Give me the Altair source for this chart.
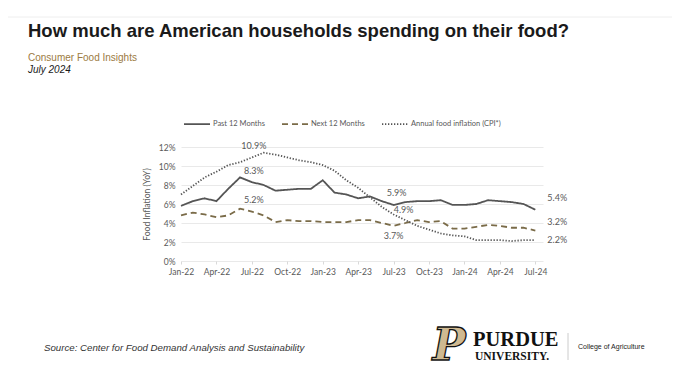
import json
import altair as alt
import pandas as pd

# ---------------- data ----------------
months = ["Jan-22", "Feb-22", "Mar-22", "Apr-22", "May-22", "Jun-22", "Jul-22", "Aug-22",
          "Sep-22", "Oct-22", "Nov-22", "Dec-22", "Jan-23", "Feb-23", "Mar-23", "Apr-23",
          "May-23", "Jun-23", "Jul-23", "Aug-23", "Sep-23", "Oct-23", "Nov-23", "Dec-23",
          "Jan-24", "Feb-24", "Mar-24", "Apr-24", "May-24", "Jun-24", "Jul-24"]
past_12 = [5.8, 6.3, 6.6, 6.3, 7.6, 8.8, 8.3, 8.0, 7.4, 7.5, 7.6, 7.6, 8.5, 7.2, 7.0, 6.6,
           6.8, 6.3, 5.9, 6.2, 6.3, 6.3, 6.4, 5.9, 5.9, 6.0, 6.4, 6.3, 6.2, 6.0, 5.4]
next_12 = [4.8, 5.1, 4.9, 4.6, 4.8, 5.5, 5.2, 4.8, 4.1, 4.3, 4.2, 4.2, 4.1, 4.1, 4.1, 4.3,
           4.3, 4.0, 3.7, 4.0, 4.3, 4.1, 4.2, 3.4, 3.4, 3.6, 3.8, 3.7, 3.5, 3.5, 3.2]
cpi = [7.0, 7.9, 8.8, 9.4, 10.1, 10.4, 10.9, 11.4, 11.2, 10.9, 10.6, 10.4, 10.1, 9.5, 8.5, 7.7,
       6.7, 5.7, 4.9, 4.3, 3.7, 3.3, 2.9, 2.7, 2.6, 2.2, 2.2, 2.2, 2.1, 2.2, 2.2]
series_names = ["Past 12 Months", "Next 12 Months", "Annual food inflation (CPI*)"]
label_months = ["Jul-22", "Jul-23", "Jul-24"]
y_ticks = [0, 2, 4, 6, 8, 10, 12]
x_tick_index = list(range(0, 31, 3))

title_text = "How much are American households spending on their food?"
subtitle_text = "Consumer Food Insights"
date_text = "July 2024"
source_text = "Source:  Center for Food Demand Analysis and Sustainability"
y_title = "Food Inflation (YoY)"

rows = []
for name, vals in zip(series_names, [past_12, next_12, cpi]):
    for i, (m, v) in enumerate(zip(months, vals)):
        rows.append({"series": name, "idx": i, "month": m, "value": v})
df = pd.DataFrame(rows)
df_labels = df[df["month"].isin(label_months)].reset_index(drop=True)

# ---------------- style ----------------
FONT = "Lato"
GRAY = "#595959"
W, H = 362, 114
PAD = {"left": 173, "top": 139, "right": 664 - 173 - W, "bottom": 354 - 139 - H}

x_axis = alt.Axis(values=x_tick_index, labelExpr=json.dumps(months) + "[datum.value]",
                  title=None, grid=False, domain=False, ticks=True, tickSize=3,
                  tickColor="#d9d9d9", labelColor=GRAY, labelFont=FONT,
                  labelFontSize=8.5, labelPadding=3, labelOverlap=False,
                  labelFlush=False)
y_axis = alt.Axis(values=y_ticks, labelExpr="datum.value + '%'", title=y_title,
                  titleFont=FONT, titleFontSize=8.5, titleFontWeight="normal",
                  titleColor=GRAY, titlePadding=7, grid=True, gridColor="#e3e3e3",
                  gridWidth=0.8, domain=False, ticks=False, labelColor=GRAY,
                  labelFont=FONT, labelFontSize=8.5, labelPadding=6,
                  labelOverlap=False, labelFlush=False)
x_enc = alt.X("idx:Q", scale=alt.Scale(domain=[0, 30.65], nice=False, zero=False), axis=x_axis)
y_enc = alt.Y("value:Q", scale=alt.Scale(domain=[0, 12], nice=False), axis=y_axis)

lines = alt.Chart(df).mark_line().encode(
    x=x_enc,
    y=y_enc,
    color=alt.Color("series:N", sort=series_names,
                    scale=alt.Scale(domain=series_names, range=["#555555", "#7a6b48", "#555555"]),
                    legend=alt.Legend(title=None)),
    strokeDash=alt.StrokeDash("series:N", sort=series_names,
                              scale=alt.Scale(domain=series_names, range=[[1, 0], [6, 4], [1.3, 1.7]]),
                              legend=alt.Legend(title=None)),
    strokeWidth=alt.StrokeWidth("series:N",
                                scale=alt.Scale(domain=series_names, range=[1.8, 1.8, 1.1]),
                                legend=None),
)

# value labels: (dx, dy, align)
offsets = {
    ("Past 12 Months", "Jul-22"): (2, -11, "center"),
    ("Next 12 Months", "Jul-22"): (2, -12, "center"),
    ("Annual food inflation (CPI*)", "Jul-22"): (2, -11, "center"),
    ("Past 12 Months", "Jul-23"): (3, -12, "center"),
    ("Next 12 Months", "Jul-23"): (0, 10, "center"),
    ("Annual food inflation (CPI*)", "Jul-23"): (10, -4, "center"),
    ("Past 12 Months", "Jul-24"): (12, -12, "left"),
    ("Next 12 Months", "Jul-24"): (12, -9, "left"),
    ("Annual food inflation (CPI*)", "Jul-24"): (12, 0, "left"),
}
label_layers = []
for (s, m), (dx, dy, al) in offsets.items():
    label_layers.append(
        alt.Chart(df_labels)
        .transform_filter(f"datum.series == '{s}' && datum.month == '{m}'")
        .transform_calculate(lbl="format(datum.value, '.1f') + '%'")
        .mark_text(dx=dx, dy=dy, align=al, baseline="middle", font=FONT, fontSize=9, color=GRAY)
        .encode(x=x_enc, y=y_enc, text="lbl:N")
    )


def text_layer(txt, x, y, **kw):
    return alt.Chart(pd.DataFrame({"t": [txt]})).mark_text(**kw).encode(
        x=alt.value(x), y=alt.value(y), text="t:N")


def rule_layer(x, x2, y, y2=None, **kw):
    enc = dict(x=alt.value(x), x2=alt.value(x2), y=alt.value(y))
    if y2 is not None:
        enc["y2"] = alt.value(y2)
    return alt.Chart(pd.DataFrame({"a": [0]})).mark_rule(**kw).encode(**enc)


deco = [
    rule_layer(-173, 491, -130, color="#eeeeee", strokeWidth=1),
    text_layer(title_text, -153, -110, align="left", baseline="alphabetic",
               font="Liberation Sans", fontSize=18.5, fontWeight="bold", color="#1a1a1a"),
    text_layer(subtitle_text, -153, -89, align="left", baseline="middle",
               font="Liberation Sans", fontSize=10, color="#9c7b3f"),
    text_layer(date_text, -153, -77, align="left", baseline="middle",
               font="Liberation Sans", fontSize=10, fontStyle="italic", color="#1a1a1a"),
    text_layer(source_text, -137, 201, align="left", baseline="middle",
               font="Liberation Sans", fontSize=9.7, fontStyle="italic", color="#333333"),
    text_layer("P", 268, 200, align="center", baseline="middle", font="DejaVu Serif",
               fontSize=44, fontWeight="bold", fontStyle="italic", color="#CFB991",
               stroke="#111111", strokeWidth=1.3),
    text_layer("PURDUE", 292, 199, align="left", baseline="alphabetic",
               font="Liberation Serif", fontSize=20.5, fontWeight="bold", color="#111111"),
    text_layer("UNIVERSITY.", 294, 213, align="left", baseline="alphabetic",
               font="Liberation Serif", fontSize=11.5, fontWeight="bold", color="#111111"),
    rule_layer(387, 387, 186, 213, color="#cccccc", strokeWidth=1),
    text_layer("College of Agriculture", 397, 200, align="left", baseline="middle",
               font="Liberation Sans", fontSize=7, color="#222222"),
]

chart = alt.layer(lines, *label_layers, *deco).properties(
    width=W, height=H, padding=PAD,
    autosize=alt.AutoSizeParams(type="none"),
).configure_view(stroke=None).configure_legend(
    orient="none", legendX=2, legendY=-37, direction="horizontal",
    symbolType="stroke", symbolSize=676, symbolStrokeWidth=1.6,
    labelFont=FONT, labelFontSize=7.5, labelColor=GRAY, labelOffset=2,
    columnPadding=13, padding=0,
)

chart.save("out.html", embed_options={"renderer": "svg", "actions": False})
